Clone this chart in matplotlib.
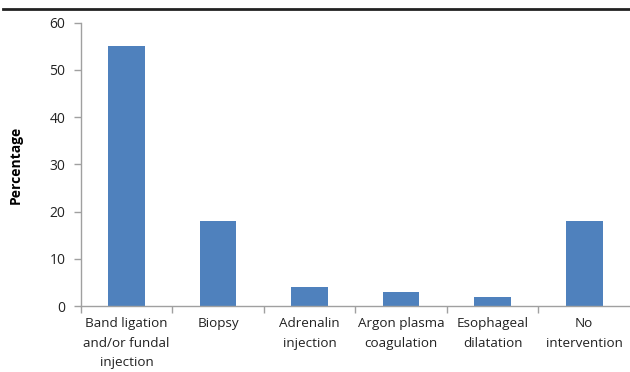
import matplotlib
matplotlib.use("Agg")
import matplotlib.pyplot as plt
from matplotlib.lines import Line2D
import numpy as np

categories = [
    "Band ligation\nand/or fundal\ninjection",
    "Biopsy",
    "Adrenalin\ninjection",
    "Argon plasma\ncoagulation",
    "Esophageal\ndilatation",
    "No\nintervention",
]
percentages = [55, 18, 4, 3, 2, 18]
y_ticks = [0, 10, 20, 30, 40, 50, 60]

plt.rcParams["font.family"] = ["Open Sans", "DejaVu Sans"]

fig = plt.figure(figsize=(6.30, 3.72), dpi=100)
ax = fig.add_axes([0.128, 0.177, 0.872, 0.762])

x = np.arange(len(categories))
ax.bar(x, percentages, width=0.4, color="#4F81BD", zorder=2)

ax.set_xlim(-0.5, len(categories) - 0.5)
ax.set_ylim(0, 60)
ax.set_yticks(y_ticks)
ax.set_yticklabels([str(v) for v in y_ticks], fontsize=10, color="#222222")

# category labels at centers, tick marks at category boundaries
ax.set_xticks(x)
ax.set_xticklabels(categories, fontsize=9.7, color="#222222", linespacing=1.65)
ax.tick_params(axis="x", which="major", length=0, pad=8)
ax.set_xticks(np.arange(len(categories)) - 0.5, minor=True)
ax.tick_params(axis="x", which="minor", length=5, color="#A0A0A0", width=1)
ax.tick_params(axis="y", length=5, color="#A0A0A0", width=1, pad=6)

for side in ["top", "right"]:
    ax.spines[side].set_visible(False)
for side in ["left", "bottom"]:
    ax.spines[side].set_color("#A0A0A0")
    ax.spines[side].set_linewidth(1)

ax.set_ylabel("Percentage", fontsize=10, fontweight="bold", labelpad=19)

# rule across the top of the figure
fig.add_artist(Line2D([0.005, 1.0], [0.975, 0.975], transform=fig.transFigure,
                      color="#222222", linewidth=2))

fig.savefig("out.png", dpi=100)
